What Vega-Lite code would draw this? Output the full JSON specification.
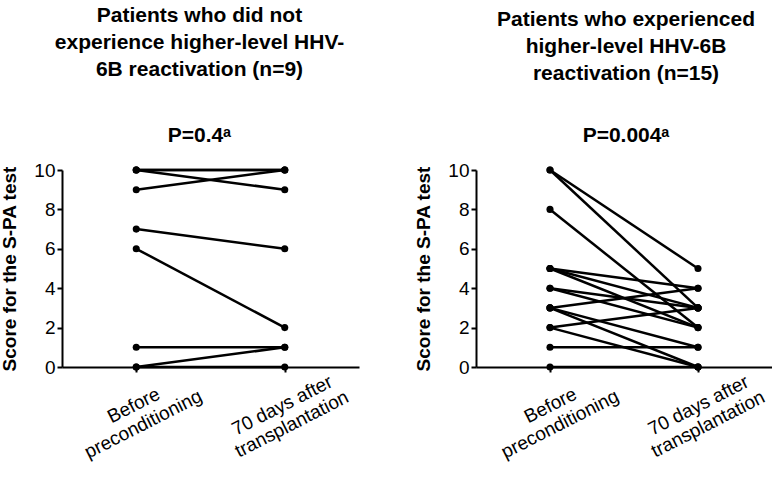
{
  "$schema": "https://vega.github.io/schema/vega-lite/v6.json",
  "padding": {"left": 0, "top": 5, "right": 0, "bottom": 0},
  "background": "white",
  "datasets": {
    "noHigh": [
      {"patient": "A1", "time": "Before", "score": 10}, {"patient": "A1", "time": "After", "score": 10},
      {"patient": "A2", "time": "Before", "score": 10}, {"patient": "A2", "time": "After", "score": 9},
      {"patient": "A3", "time": "Before", "score": 9}, {"patient": "A3", "time": "After", "score": 10},
      {"patient": "A4", "time": "Before", "score": 7}, {"patient": "A4", "time": "After", "score": 6},
      {"patient": "A5", "time": "Before", "score": 6}, {"patient": "A5", "time": "After", "score": 2},
      {"patient": "A6", "time": "Before", "score": 1}, {"patient": "A6", "time": "After", "score": 1},
      {"patient": "A7", "time": "Before", "score": 0}, {"patient": "A7", "time": "After", "score": 1},
      {"patient": "A8", "time": "Before", "score": 0}, {"patient": "A8", "time": "After", "score": 0},
      {"patient": "A9", "time": "Before", "score": 10}, {"patient": "A9", "time": "After", "score": 10}
    ],
    "high": [
      {"patient": "B1", "time": "Before", "score": 10}, {"patient": "B1", "time": "After", "score": 5},
      {"patient": "B2", "time": "Before", "score": 10}, {"patient": "B2", "time": "After", "score": 3},
      {"patient": "B3", "time": "Before", "score": 8}, {"patient": "B3", "time": "After", "score": 2},
      {"patient": "B4", "time": "Before", "score": 5}, {"patient": "B4", "time": "After", "score": 4},
      {"patient": "B5", "time": "Before", "score": 5}, {"patient": "B5", "time": "After", "score": 3},
      {"patient": "B6", "time": "Before", "score": 5}, {"patient": "B6", "time": "After", "score": 2},
      {"patient": "B7", "time": "Before", "score": 4}, {"patient": "B7", "time": "After", "score": 3},
      {"patient": "B8", "time": "Before", "score": 4}, {"patient": "B8", "time": "After", "score": 2},
      {"patient": "B9", "time": "Before", "score": 3}, {"patient": "B9", "time": "After", "score": 4},
      {"patient": "B10", "time": "Before", "score": 3}, {"patient": "B10", "time": "After", "score": 1},
      {"patient": "B11", "time": "Before", "score": 3}, {"patient": "B11", "time": "After", "score": 0},
      {"patient": "B12", "time": "Before", "score": 2}, {"patient": "B12", "time": "After", "score": 3},
      {"patient": "B13", "time": "Before", "score": 2}, {"patient": "B13", "time": "After", "score": 0},
      {"patient": "B14", "time": "Before", "score": 1}, {"patient": "B14", "time": "After", "score": 1},
      {"patient": "B15", "time": "Before", "score": 0}, {"patient": "B15", "time": "After", "score": 0}
    ]
  },
  "config": {
    "view": {"stroke": null},
    "font": "Liberation Sans",
    "axis": {
      "domainColor": "black", "domainWidth": 2, "tickColor": "black", "tickWidth": 2, "tickSize": 5,
      "grid": false, "labelColor": "black", "labelFont": "Liberation Sans", "labelFontSize": 19,
      "titleFont": "Liberation Sans", "titleFontSize": 19, "titleFontWeight": "bold", "titleColor": "black"
    },
    "title": {
      "font": "Liberation Sans", "fontSize": 21, "fontWeight": "bold", "color": "black", "lineHeight": 27,
      "subtitleFont": "Liberation Sans", "subtitleFontSize": 21, "subtitleFontWeight": "bold", "subtitleColor": "black",
      "anchor": "middle", "offset": 15, "frame": "group"
    },
    "concat": {"spacing": 55}
  },
  "hconcat": [
    {
      "width": 297, "height": 197,
      "data": {"name": "noHigh"},
      "title": {"text": ["Patients who did not", "experience higher-level HHV-", "6B reactivation (n=9)"], "subtitle": "P=0.4ᵃ", "subtitlePadding": 45, "dx": -11},
      "encoding": {
        "x": {"field": "time", "type": "nominal", "sort": ["Before", "After"], "scale": {"type": "point", "padding": 0.5},
          "axis": {"title": null, "labelAngle": -27, "labelAlign": "center", "labelBaseline": "middle", "labelPadding": 33, "labelOffset": -3, "labelFontSize": 19, "labelLineHeight": 21, "labelOverlap": false, "labelBound": false,
            "labelExpr": "datum.value == 'Before' ? ['Before', 'preconditioning'] : ['70 days after', 'transplantation']"}},
        "y": {"field": "score", "type": "quantitative", "scale": {"domain": [0, 10], "nice": false},
          "axis": {"title": "Score for the S-PA test", "values": [0, 2, 4, 6, 8, 10], "titlePadding": 14}}
      },
      "layer": [
        {"mark": {"type": "line", "color": "black", "strokeWidth": 2.5}, "encoding": {"detail": {"field": "patient"}}},
        {"mark": {"type": "point", "filled": true, "color": "black", "size": 50, "opacity": 1}}
      ]
    },
    {
      "width": 296, "height": 197,
      "data": {"name": "high"},
      "title": {"text": ["Patients who experienced", "higher-level HHV-6B", "reactivation (n=15)"], "subtitle": "P=0.004ᵃ", "subtitlePadding": 41, "dx": 2},
      "encoding": {
        "x": {"field": "time", "type": "nominal", "sort": ["Before", "After"], "scale": {"type": "point", "padding": 0.5},
          "axis": {"title": null, "labelAngle": -27, "labelAlign": "center", "labelBaseline": "middle", "labelPadding": 33, "labelOffset": 0, "labelFontSize": 19, "labelLineHeight": 21, "labelOverlap": false, "labelBound": false,
            "labelExpr": "datum.value == 'Before' ? ['Before', 'preconditioning'] : ['70 days after', 'transplantation']"}},
        "y": {"field": "score", "type": "quantitative", "scale": {"domain": [0, 10], "nice": false},
          "axis": {"title": "Score for the S-PA test", "values": [0, 2, 4, 6, 8, 10], "titlePadding": 14}}
      },
      "layer": [
        {"mark": {"type": "line", "color": "black", "strokeWidth": 2.5}, "encoding": {"detail": {"field": "patient"}}},
        {"mark": {"type": "point", "filled": true, "color": "black", "size": 50, "opacity": 1}}
      ]
    }
  ]
}
